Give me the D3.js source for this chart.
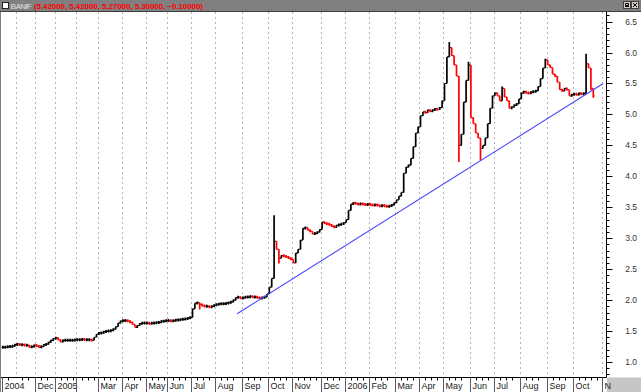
<!DOCTYPE html>
<html>
<head>
<meta charset="utf-8">
<script src="https://cdnjs.cloudflare.com/ajax/libs/d3/7.8.5/d3.min.js"></script>
<style>
  body { margin: 0; background: #fff; }
  svg { display: block; font-family: "Liberation Sans", Arial, sans-serif; }
</style>
</head>
<body>
<div id="chart"></div>
<script>
// ----- data -----

const ticker = "BANIF";

// months on the x axis, and how many bar slots each one takes
const monthNames = ["Oct", "Nov", "Dec", "Jan", "Feb", "Mar", "Apr", "May", "Jun", "Jul", "Aug", "Sep",
  "Oct", "Nov", "Dec", "Jan", "Feb", "Mar", "Apr", "May", "Jun", "Jul", "Aug", "Sep", "Oct", "Nov"];
const monthLabels = ["2004", "", "Dec", "2005", "", "Mar", "Apr", "May", "Jun", "Jul", "Aug", "Sep",
  "Oct", "Nov", "Dec", "2006", "Feb", "Mar", "Apr", "May", "Jun", "Jul", "Aug", "Sep", "Oct", "N"];
const monthBars = [6, 8, 8, 9, 9, 10, 10, 9, 10, 10, 11, 11, 10, 12, 10, 10, 11, 10, 10, 11, 10, 11, 11, 11, 12, 1];

// closing price of each bar
const closes = [
  1.24, 1.24, 1.25, 1.25, 1.26, 1.28, 1.29, 1.28, 1.28, 1.27,
  1.27, 1.24, 1.25, 1.27, 1.26, 1.24, 1.25, 1.28, 1.29, 1.32,
  1.35, 1.38, 1.39, 1.36, 1.33, 1.35, 1.35, 1.35, 1.35, 1.35,
  1.36, 1.36, 1.36, 1.37, 1.36, 1.36, 1.36, 1.35, 1.40, 1.45,
  1.47, 1.47, 1.49, 1.50, 1.50, 1.51, 1.53, 1.57, 1.63, 1.66,
  1.67, 1.67, 1.66, 1.64, 1.61, 1.56, 1.59, 1.62, 1.63, 1.63,
  1.63, 1.62, 1.63, 1.63, 1.64, 1.64, 1.66, 1.66, 1.67, 1.67,
  1.66, 1.67, 1.68, 1.68, 1.69, 1.69, 1.70, 1.71, 1.72, 1.86,
  1.95, 1.96, 1.93, 1.91, 1.90, 1.90, 1.89, 1.90, 1.92, 1.93,
  1.94, 1.94, 1.94, 1.95, 1.96, 1.97, 2.00, 2.04, 2.05, 2.03,
  2.04, 2.05, 2.05, 2.06, 2.05, 2.05, 2.04, 2.03, 2.04, 2.05,
  2.10, 2.21, 2.35, 2.95, 2.82, 2.68, 2.72, 2.71, 2.70, 2.68,
  2.66, 2.60, 2.76, 2.82, 2.97, 3.16, 3.17, 3.13, 3.11, 3.07,
  3.08, 3.10, 3.14, 3.26, 3.24, 3.23, 3.22, 3.19, 3.18, 3.21,
  3.22, 3.23, 3.25, 3.30, 3.45, 3.55, 3.57, 3.56, 3.55, 3.56,
  3.55, 3.54, 3.55, 3.54, 3.53, 3.54, 3.53, 3.52, 3.53, 3.52,
  3.51, 3.52, 3.54, 3.57, 3.62, 3.68, 3.74, 4.05, 4.15, 4.18,
  4.29, 4.48, 4.70, 4.80, 4.98, 5.04, 5.03, 5.07, 5.05, 5.07,
  5.09, 5.08, 5.11, 5.22, 5.50, 5.93, 6.08, 5.95, 5.80, 5.62,
  4.50, 4.68, 5.20, 5.55, 5.80, 4.95, 4.85, 4.70, 4.62, 4.45,
  4.50, 4.62, 4.85, 5.10, 5.30, 5.35, 5.30, 5.22, 5.42, 5.28,
  5.22, 5.10, 5.12, 5.15, 5.17, 5.25, 5.35, 5.37, 5.35, 5.34,
  5.36, 5.37, 5.38, 5.45, 5.58, 5.75, 5.88, 5.80, 5.76, 5.65,
  5.62, 5.52, 5.40, 5.38, 5.42, 5.40, 5.30, 5.32, 5.33, 5.32,
  5.34, 5.33, 5.34, 5.82, 5.75, 5.40, 5.30
];

// bars with long wicks
const wickBars = [82, 113, 115, 186, 190, 194, 199, 208, 226, 243];
const wickHighs = [1.96, 3.37, 2.82, 6.17, 5.55, 5.85, 4.62, 5.45, 5.90, 5.98];
const wickLows = [1.85, 2.35, 2.59, 5.93, 4.23, 5.55, 4.26, 5.22, 5.75, 5.34];

// last bar: open, high, low, close
const lastBar = [5.42, 5.42, 5.27, 5.30];

// support line, in bar slots and prices
const trendBars = [98.1, 250.6];
const trendPrices = [1.78, 5.50];

const yLabels = [1.0, 1.5, 2.0, 2.5, 3.0, 3.5, 4.0, 4.5, 5.0, 5.5, 6.0, 6.5];

// ----- layout -----

const width = 641, height = 392;
const plot = { left: 1, right: 606.5, top: 12, bottom: 377.5 };
const slotCount = d3.sum(monthBars);

const svg = d3.select("#chart")
  .append("svg")
  .attr("width", width)
  .attr("height", height);

const x = d3.scaleLinear().domain([0, slotCount]).range([1.7, 604.1]);
const y = d3.scaleLinear().domain([0.75, 6.655]).range([plot.bottom, plot.top]);

// month start slots
const monthStarts = [];
monthBars.reduce((acc, n) => { monthStarts.push(acc); return acc + n; }, 0);

svg.append("rect")
  .attr("width", width).attr("height", height)
  .attr("fill", "#fff");

svg.append("clipPath").attr("id", "plot-clip")
  .append("rect")
  .attr("x", plot.left).attr("y", plot.top)
  .attr("width", plot.right - plot.left).attr("height", plot.bottom - plot.top);

// vertical dashed grid at month starts
svg.append("g")
  .selectAll("line")
  .data(monthStarts.slice(1))
  .join("line")
  .attr("x1", d => Math.round(x(d)) + 0.5)
  .attr("x2", d => Math.round(x(d)) + 0.5)
  .attr("y1", plot.top)
  .attr("y2", plot.bottom)
  .attr("stroke", "#b4b4b4")
  .attr("stroke-dasharray", "2,3");

// ----- price bars -----

const bars = closes.map((c, i) => {
  const open = i === closes.length - 1 ? lastBar[0] : (i > 0 ? closes[i - 1] : c);
  const w = wickBars.indexOf(i);
  let hi = Math.max(open, c), lo = Math.min(open, c);
  if (w >= 0) { hi = Math.max(hi, wickHighs[w]); lo = Math.min(lo, wickLows[w]); }
  if (i === closes.length - 1) { hi = Math.max(hi, lastBar[1]); lo = Math.min(lo, lastBar[2]); }
  return { i, open, close: c, hi, lo, up: c >= (i > 0 ? closes[i - 1] : c) };
});

const barG = svg.append("g").attr("clip-path", "url(#plot-clip)");

const barColor = d => d.up ? "#000" : "#ff0000";

// high-low line, at least 3px tall so flat days still show
barG.selectAll("line.hl")
  .data(bars)
  .join("line")
  .attr("class", "hl")
  .attr("x1", d => x(d.i + 0.5))
  .attr("x2", d => x(d.i + 0.5))
  .attr("y1", d => Math.min(y(d.hi), (y(d.hi) + y(d.lo)) / 2 - 1.5))
  .attr("y2", d => Math.max(y(d.lo), (y(d.hi) + y(d.lo)) / 2 + 1.5))
  .attr("stroke", barColor)
  .attr("stroke-width", 1.7);

barG.selectAll("line.op")
  .data(bars)
  .join("line")
  .attr("class", "op")
  .attr("x1", d => x(d.i + 0.5) - 1.3)
  .attr("x2", d => x(d.i + 0.5))
  .attr("y1", d => y(d.open))
  .attr("y2", d => y(d.open))
  .attr("stroke", barColor)
  .attr("stroke-width", 1.2);

barG.selectAll("line.cl")
  .data(bars)
  .join("line")
  .attr("class", "cl")
  .attr("x1", d => x(d.i + 0.5))
  .attr("x2", d => x(d.i + 0.5) + 1.3)
  .attr("y1", d => y(d.close))
  .attr("y2", d => y(d.close))
  .attr("stroke", barColor)
  .attr("stroke-width", 1.2);

// support line
barG.append("line")
  .attr("x1", x(trendBars[0])).attr("y1", y(trendPrices[0]))
  .attr("x2", x(trendBars[1])).attr("y2", y(trendPrices[1]))
  .attr("stroke", "#4646ff")
  .attr("stroke-width", 1.1);

// ----- right price axis -----

svg.append("line")
  .attr("x1", plot.right).attr("x2", plot.right)
  .attr("y1", plot.top).attr("y2", plot.bottom)
  .attr("stroke", "#000");

const minorTicks = d3.range(8, 67).map(d => d / 10);
svg.append("g")
  .selectAll("line")
  .data(minorTicks)
  .join("line")
  .attr("x1", plot.right)
  .attr("x2", d => plot.right + (Math.round(d * 10) % 5 === 0 ? 6 : 3))
  .attr("y1", d => Math.round(y(d)) + 0.5)
  .attr("y2", d => Math.round(y(d)) + 0.5)
  .attr("stroke", "#000");

svg.append("g")
  .selectAll("text")
  .data(yLabels)
  .join("text")
  .attr("x", 637)
  .attr("y", d => y(d) + 3)
  .attr("text-anchor", "end")
  .attr("font-size", 8.5)
  .attr("fill", "#333")
  .text(d => d3.format(".1f")(d));

// ----- bottom date axis -----

svg.append("rect")
  .attr("x", 0).attr("y", plot.bottom)
  .attr("width", plot.right).attr("height", height - plot.bottom)
  .attr("fill", "#fff");

svg.append("rect")
  .attr("x", plot.right + 0.5).attr("y", plot.bottom)
  .attr("width", width - plot.right).attr("height", height - plot.bottom)
  .attr("fill", "#c6c6c6");

svg.append("line")
  .attr("x1", 0).attr("x2", plot.right)
  .attr("y1", plot.bottom).attr("y2", plot.bottom)
  .attr("stroke", "#000");

// weekly ticks
const weekTicks = [];
monthStarts.forEach((s, k) => {
  for (let t = s + 2.5; t < s + monthBars[k] - 1; t += 2.5) weekTicks.push(t);
});
svg.append("g")
  .selectAll("line")
  .data(weekTicks)
  .join("line")
  .attr("x1", d => Math.round(x(d)) + 0.5)
  .attr("x2", d => Math.round(x(d)) + 0.5)
  .attr("y1", plot.bottom)
  .attr("y2", plot.bottom + 3)
  .attr("stroke", "#000");

const monthG = svg.append("g")
  .selectAll("g")
  .data(monthStarts.map((s, k) => ({ s, label: monthLabels[k], name: monthNames[k] })).filter(d => d.name !== "Nov" || d.label))
  .join("g")
  .attr("transform", d => `translate(${Math.round(x(d.s)) + 0.5},0)`);

monthG.append("line")
  .attr("y1", plot.bottom)
  .attr("y2", height)
  .attr("stroke", "#5a5a6e");

monthG.append("text")
  .attr("x", 2)
  .attr("y", 388.5)
  .attr("font-size", 9)
  .attr("fill", "#222")
  .text(d => d.label);

// left frame
svg.append("line")
  .attr("x1", 0.5).attr("x2", 0.5)
  .attr("y1", plot.top).attr("y2", height)
  .attr("stroke", "#808080");

// ----- title bar -----

svg.append("rect")
  .attr("width", width).attr("height", 11)
  .attr("fill", "#808080");
svg.append("line")
  .attr("x1", 0).attr("x2", width)
  .attr("y1", 11.5).attr("y2", 11.5)
  .attr("stroke", "#404040");

svg.append("rect")
  .attr("x", 2.5).attr("y", 2.5)
  .attr("width", 6).attr("height", 6)
  .attr("fill", "#fff").attr("stroke", "#222");

svg.append("text")
  .attr("x", 10.5).attr("y", 8.5)
  .attr("font-size", 8).attr("font-weight", "bold")
  .attr("fill", "#c8c8c8")
  .attr("textLength", 21)
  .text(ticker);

const change = lastBar[3] - closes[closes.length - 2];
const fmt = d3.format(".5f");
svg.append("text")
  .attr("x", 34).attr("y", 8.5)
  .attr("font-size", 8).attr("font-weight", "bold")
  .attr("fill", "#ff0000")
  .attr("textLength", 169)
  .text(`(${lastBar.map(fmt).join(", ")}, ${fmt(change)})`);

// window buttons at top right
[623.5, 631.5].forEach((bx, k) => {
  svg.append("rect")
    .attr("x", bx).attr("y", 1.5)
    .attr("width", 7).attr("height", 7)
    .attr("fill", "#d4d0c8").attr("stroke", "#404040");
  svg.append("path")
    .attr("d", k === 0
      ? `M${bx + 1.5},${6.5}h4M${bx + 2},${3.5}h3v2h-3z`
      : `M${bx + 1.5},3L${bx + 5.5},7M${bx + 5.5},3L${bx + 1.5},7`)
    .attr("stroke", "#000").attr("fill", "none");
});
</script>
</body>
</html>
